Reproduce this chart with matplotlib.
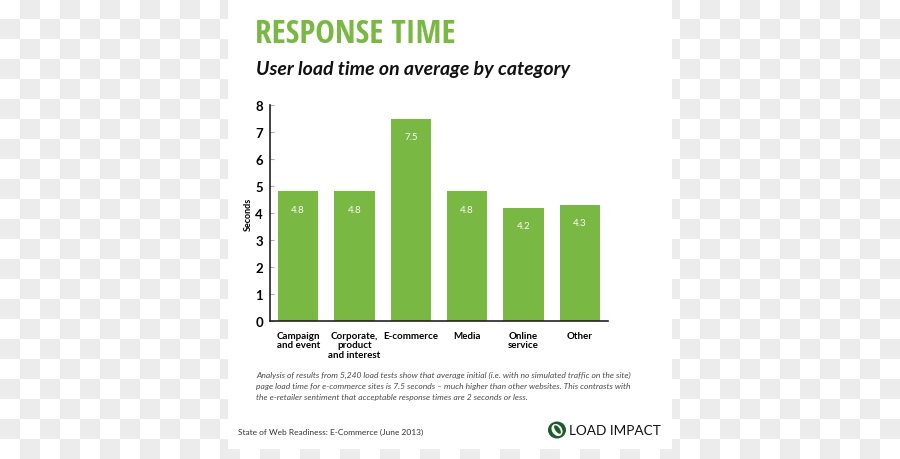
import matplotlib.pyplot as plt
import numpy as np
from matplotlib.patches import Rectangle, Ellipse

# data
categories = ['Campaign\nand event', 'Corporate,\nproduct\nand interest', 'E-commerce',
              'Media', 'Online\nservice', 'Other']
seconds = [4.8, 4.8, 7.5, 4.8, 4.2, 4.3]
value_labels = ['4.8', '4.8', '7.5', '4.8', '4.2', '4.3']
yticks = [0, 1, 2, 3, 4, 5, 6, 7, 8]

caption = [
    'Analysis of results from 5,240 load tests show that average initial (i.e. with no simulated traffic on the site)',
    'page load time for e-commerce sites is 7.5 seconds \u2013 much higher than other websites. This contrasts with',
    'the e-retailer sentiment that acceptable response times are 2 seconds or less.',
]

GREEN = '#78b843'
W, H = 900, 460

fig = plt.figure(figsize=(9, 4.6), dpi=100)

# checkerboard backdrop with the white page on top, in pixel coordinates
bg = fig.add_axes([0, 0, 1, 1])
bg.axis('off')
ii, jj = np.mgrid[0:H // 20 + 1, 0:W // 20 + 1]
checker = (ii + jj) % 2
bg.imshow(checker, cmap=plt.matplotlib.colors.ListedColormap(['#ffffff', '#ececec']),
          extent=(0, (W // 20 + 1) * 20, (H // 20 + 1) * 20, 0), interpolation='nearest',
          aspect='auto', zorder=0)
bg.set_xlim(0, W)
bg.set_ylim(H, 0)
bg.add_patch(Rectangle((228, 0), 444, 450, facecolor='white', edgecolor='none', zorder=1))


def fx(x):
    return x / W


def fy(y):
    return 1 - y / H


# headings
fig.text(fx(255), fy(43), 'RESPONSE TIME', color=GREEN, fontsize=23.8, fontweight='bold',
         fontstretch='condensed',
         family=['Liberation Sans Narrow', 'DejaVu Sans Condensed', 'Open Sans Condensed',
                 'DejaVu Sans'], va='baseline')
fig.text(fx(256), fy(74.5), 'User load time on average by category', color='#111111',
         fontsize=14, fontweight='bold', style='italic', family=['Lato', 'DejaVu Sans'],
         va='baseline')

# bar chart
ax = fig.add_axes([270 / W, 1 - 322 / H, 338 / W, 216 / H])
ax.patch.set_alpha(0)
x = np.arange(len(categories))
bars = ax.bar(x, seconds, width=0.72, color=GREEN, zorder=2)
for b, lab in zip(bars, value_labels):
    ax.annotate(lab, (b.get_x() + b.get_width() / 2, b.get_height()), xytext=(0, -13),
                textcoords='offset points', ha='center', va='center', color='white',
                fontsize=7, family=['Lato', 'DejaVu Sans'])

ax.set_xlim(-0.5, len(categories) - 0.5)
ax.set_ylim(0, 8)
ax.set_yticks(yticks)
ax.set_yticklabels([str(t) for t in yticks], fontsize=9.5, fontweight='bold',
                   family=['Lato', 'DejaVu Sans'])
ax.set_xticks(x)
ax.set_xticklabels(categories, fontsize=7, fontweight='bold', family=['Lato', 'DejaVu Sans'],
                   linespacing=1.1)
ax.tick_params(axis='y', direction='in', length=3, width=0.8, color='#aaaaaa', pad=5)
ax.tick_params(axis='x', length=0, pad=7)
ax.set_ylabel('Seconds', fontsize=6.5, fontweight='bold', family=['Lato', 'DejaVu Sans'],
              labelpad=2)
for s in ['top', 'right']:
    ax.spines[s].set_visible(False)
for s in ['left', 'bottom']:
    ax.spines[s].set_color('#222222')
    ax.spines[s].set_linewidth(1.2)

# caption
for k, line in enumerate(caption):
    fig.text(fx(256), fy(378 + 11 * k), line, color='#4a4a4a', fontsize=6.1, style='italic',
             family=['Lato', 'DejaVu Sans'], va='baseline')

# footer
fig.text(fx(238), fy(435), 'State of Web Readiness: E-Commerce (June 2013)', color='#333333',
         fontsize=6, family=['Lato', 'DejaVu Sans'], va='baseline')

# logo
bg.add_patch(Ellipse((557, 431), 18, 17, facecolor='#1e5b2b', edgecolor='none', zorder=3))
bg.add_patch(Ellipse((557, 431), 10, 13, angle=-35, facecolor='white', edgecolor='none', zorder=4))
bg.add_patch(Ellipse((557.5, 430.5), 4.5, 10, angle=-35, facecolor='#1e5b2b', edgecolor='none', zorder=5))
fig.text(fx(569), fy(435), 'LOAD IMPACT', color='#111111', fontsize=9.8,
         family=['Lato', 'DejaVu Sans'], va='baseline')

fig.savefig('out.png', dpi=100)
